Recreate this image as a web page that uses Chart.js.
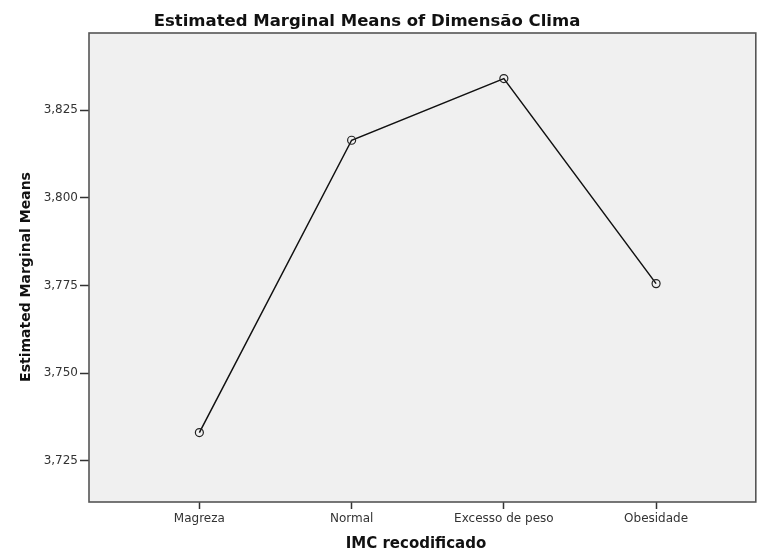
<!DOCTYPE html>
<html>
<head>
<meta charset="utf-8">
<script src="https://cdn.jsdelivr.net/npm/chart.js@4"></script>
<style>
  body { margin: 0; background: #fff; }
</style>
</head>
<body>
<canvas id="chart" width="761" height="551"></canvas>
<script>
// values
const categories = ["Magreza", "Normal", "Excesso de peso", "Obesidade"];
const means = [3.7330, 3.8164, 3.8340, 3.7755];
const yTicks = [3.725, 3.750, 3.775, 3.800, 3.825];

const chartTitle = "Estimated Marginal Means of Dimensão Clima";
const xTitle = "IMC recodificado";
const yTitle = "Estimated Marginal Means";

// background, frame and titles
const spssFrame = {
    id: 'spssFrame',
    beforeDraw(chart) {
        const { ctx, chartArea: a } = chart;
        ctx.save();
        ctx.fillStyle = '#f0f0f0';
        ctx.fillRect(a.left, a.top, a.right - a.left, a.bottom - a.top);
        ctx.restore();
    },
    afterDraw(chart) {
        const { ctx, chartArea: a } = chart;
        ctx.save();
        ctx.strokeStyle = '#555';
        ctx.lineWidth = 1.6;
        ctx.strokeRect(a.left, a.top, a.right - a.left, a.bottom - a.top);

        ctx.fillStyle = '#111';
        ctx.font = 'bold 16.5px "DejaVu Sans"';
        ctx.textAlign = 'center';
        ctx.textBaseline = 'alphabetic';
        ctx.fillText(chartTitle, 367, 26);

        ctx.font = 'bold 15px "DejaVu Sans"';
        ctx.fillText(xTitle, 416, 548);

        ctx.translate(30, 277);
        ctx.rotate(-Math.PI / 2);
        ctx.font = 'bold 14px "DejaVu Sans"';
        ctx.fillText(yTitle, 0, 0);
        ctx.restore();
    }
};

const ctx = document.getElementById("chart").getContext("2d");

new Chart(ctx, {
    type: 'line',
    data: {
        datasets: [{
            data: means.map((v, i) => ({ x: i, y: v })),
            borderColor: '#111',
            borderWidth: 1.5,
            pointRadius: 4,
            pointBorderWidth: 1.2,
            pointBorderColor: '#222',
            pointBackgroundColor: 'rgba(0,0,0,0)',
            tension: 0,
            fill: false
        }]
    },
    options: {
        responsive: false,
        animation: false,
        layout: { padding: { top: 33, left: 0, right: 0, bottom: 0 } },
        plugins: {
            legend: { display: false },
            tooltip: { enabled: false }
        },
        scales: {
            x: {
                type: 'linear',
                min: -0.725,
                max: 3.655,
                afterBuildTicks: scale => {
                    scale.ticks = categories.map((c, i) => ({ value: i }));
                },
                afterFit: scale => { scale.height = 49; },
                ticks: {
                    callback: v => categories[v] ?? '',
                    font: { family: 'DejaVu Sans', size: 12 },
                    color: '#333',
                    padding: 3,
                    maxRotation: 0,
                    autoSkip: false
                },
                grid: {
                    drawOnChartArea: false,
                    tickLength: 7,
                    tickWidth: 1.5,
                    color: '#333'
                },
                border: { display: false }
            },
            y: {
                min: 3.7132,
                max: 3.847,
                afterBuildTicks: scale => {
                    scale.ticks = yTicks.map(v => ({ value: v }));
                },
                afterFit: scale => { scale.width = 89; },
                ticks: {
                    callback: v => v.toFixed(3).replace('.', ','),
                    font: { family: 'DejaVu Sans', size: 12 },
                    color: '#333',
                    padding: 2
                },
                grid: {
                    drawOnChartArea: false,
                    tickLength: 9,
                    tickWidth: 1.5,
                    color: '#333'
                },
                border: { display: false }
            }
        }
    },
    plugins: [spssFrame]
});
</script>
</body>
</html>
